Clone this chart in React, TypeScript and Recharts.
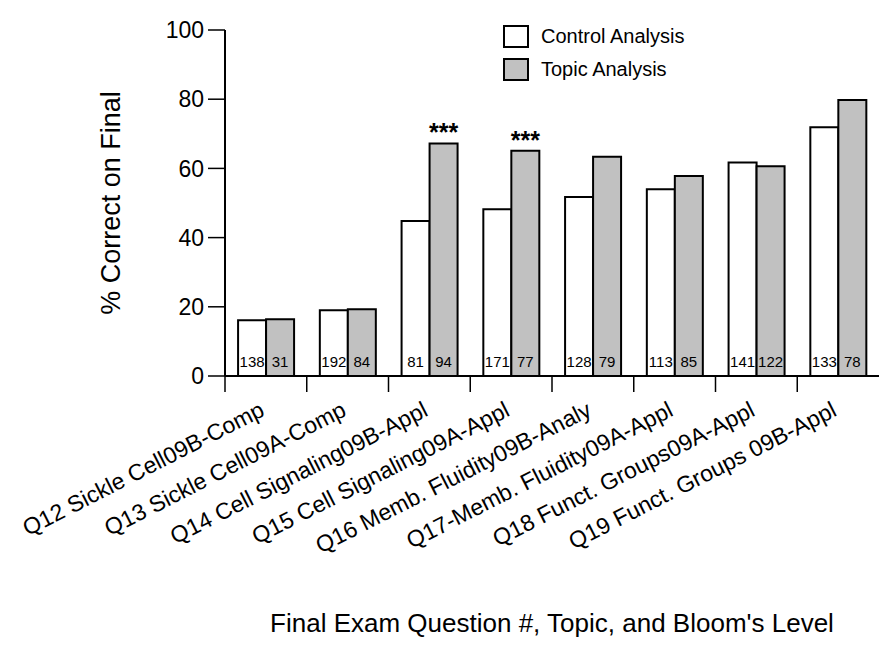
import { Bar, BarChart, LabelList, Label, Legend, XAxis, YAxis } from 'recharts';

const categories = [
  'Q12 Sickle Cell09B-Comp',
  'Q13 Sickle Cell09A-Comp',
  'Q14 Cell Signaling09B-Appl',
  'Q15 Cell Signaling09A-Appl',
  'Q16 Memb. Fluidity09B-Analy',
  'Q17-Memb. Fluidity09A-Appl',
  'Q18 Funct. Groups09A-Appl',
  'Q19 Funct. Groups 09B-Appl',
];
const controlPct = [16.1, 19.0, 44.8, 48.2, 51.7, 54.0, 61.7, 71.9];
const topicPct = [16.4, 19.3, 67.2, 65.1, 63.4, 57.8, 60.6, 79.8];
const controlN = [138, 192, 81, 171, 128, 113, 141, 133];
const topicN = [31, 84, 94, 77, 79, 85, 122, 78];
const significance = ['', '', '***', '***', '', '', '', ''];
const yTicks = [0, 20, 40, 60, 80, 100];

const data = categories.map((name, i) => ({
  name,
  control: controlPct[i],
  topic: topicPct[i],
  nControl: controlN[i],
  nTopic: topicN[i],
  sig: significance[i],
}));

const FONT = '"Liberation Sans", Arial, Helvetica, sans-serif';

// tick marks sit on the category boundaries, labels hang from the centres
function CategoryTick(props: any) {
  const { x, y, payload } = props;
  const half = payload?.offset ?? 40.9;
  return (
    <g>
      <line x1={x - half} x2={x - half} y1={y} y2={y + 16} stroke="#000" strokeWidth={1.5} />
      <text
        x={x}
        y={y + 39}
        transform={`rotate(-27, ${x}, ${y + 39})`}
        textAnchor="end"
        fontSize={23}
        fill="#000"
        fontFamily={FONT}
      >
        {payload.value}
      </text>
    </g>
  );
}

function Stars(props: any) {
  const { x, y, width, value } = props;
  if (!value) return null;
  return (
    <text x={x + width / 2} y={y - 2} textAnchor="middle" fontSize={25} fontWeight="bold" fill="#000">
      {value}
    </text>
  );
}

function LegendBox(props: any) {
  const items = props.payload || [];
  return (
    <div style={{ fontFamily: FONT }}>
      {items.map((it: any) => (
        <div key={it.value} style={{ display: 'flex', alignItems: 'center', height: 33 }}>
          <div
            style={{
              width: 22,
              height: 19,
              border: '2px solid #000',
              background: it.payload?.fill ?? it.color,
              marginRight: 12,
            }}
          />
          <span style={{ fontSize: 20, color: '#000' }}>{it.value}</span>
        </div>
      ))}
    </div>
  );
}

export default function App() {
  return (
    <div style={{ position: 'absolute', left: 0, top: 0, background: '#fff' }}>
      <BarChart
        width={879}
        height={645}
        data={data}
        margin={{ top: 30, right: 0, bottom: 0, left: 0 }}
        barCategoryGap="16%"
        barGap={0}
        style={{ fontFamily: FONT }}
      >
        <XAxis
          dataKey="name"
          interval={0}
          height={269}
          tickLine={false}
          tickSize={0}
          tickMargin={0}
          axisLine={{ stroke: '#000', strokeWidth: 2 }}
          tick={<CategoryTick />}
        >
          <Label
            value="Final Exam Question #, Topic, and Bloom's Level"
            position="insideBottom"
            offset={13}
            fontSize={26}
            fill="#000"
          />
        </XAxis>
        <YAxis
          domain={[0, 100]}
          ticks={yTicks}
          width={225}
          tickSize={17}
          tickMargin={4}
          tick={{ fontSize: 23, fill: '#000' }}
          tickLine={{ stroke: '#000', strokeWidth: 1.5 }}
          axisLine={{ stroke: '#000', strokeWidth: 2 }}
        >
          <Label value="% Correct on Final" angle={-90} position="center" dx={-2} fontSize={27} fill="#000" />
        </YAxis>
        <Legend
          layout="vertical"
          verticalAlign="middle"
          align="center"
          content={<LegendBox />}
          wrapperStyle={{ position: 'absolute', left: 503, top: 20, width: 230, height: 70 }}
        />
        <Bar
          dataKey="control"
          name="Control Analysis"
          fill="#ffffff"
          stroke="#000"
          strokeWidth={2}
          isAnimationActive={false}
        >
          <LabelList dataKey="nControl" position="insideBottom" offset={9} fontSize={15} fill="#000" />
        </Bar>
        <Bar
          dataKey="topic"
          name="Topic Analysis"
          fill="#c1c1c1"
          stroke="#000"
          strokeWidth={2}
          isAnimationActive={false}
        >
          <LabelList dataKey="nTopic" position="insideBottom" offset={9} fontSize={15} fill="#000" />
          <LabelList dataKey="sig" content={<Stars />} />
        </Bar>
      </BarChart>
    </div>
  );
}
